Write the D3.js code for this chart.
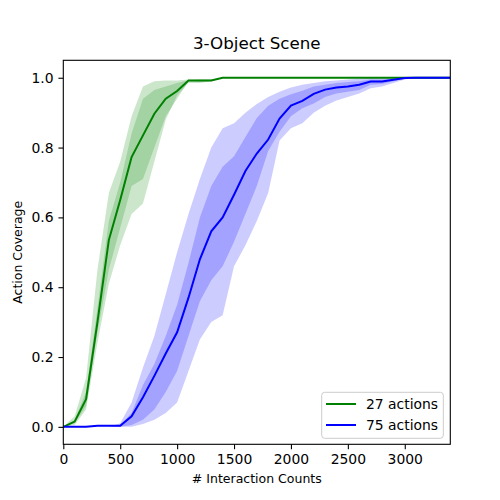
<!DOCTYPE html>
<html>
<head>
<meta charset="utf-8">
<script src="https://cdn.jsdelivr.net/npm/d3@7"></script>
<style>
  body { margin: 0; background: #fff; }
  text { font-family: "DejaVu Sans", sans-serif; }
</style>
</head>
<body>
<div id="canvas"></div>
<script>
// Interaction counts (x) shared by both series
const counts = [0, 100, 200, 300, 400, 500, 600, 700, 800, 900, 1000, 1100, 1200, 1300, 1400, 1500, 1600,
    1700, 1800, 1900, 2000, 2100, 2200, 2300, 2400, 2500, 2600, 2700, 2800, 2900, 3000, 3100, 3200, 3300, 3400];

// 27 actions (green)
const g_mean = [0, 0.015, 0.079, 0.30, 0.535, 0.65, 0.773, 0.835, 0.897, 0.94, 0.962, 0.992, 0.992, 0.992, 1, 1, 1,
    1, 1, 1, 1, 1, 1, 1, 1, 1, 1, 1, 1, 1, 1, 1, 1, 1, 1];
const g_min = [0, 0.005, 0.05, 0.24, 0.41, 0.52, 0.61, 0.64, 0.76, 0.88, 0.95, 0.985, 0.985, 0.99, 1, 1, 1,
    1, 1, 1, 1, 1, 1, 1, 1, 1, 1, 1, 1, 1, 1, 1, 1, 1, 1];
const g_max = [0, 0.03, 0.14, 0.45, 0.67, 0.76, 0.89, 0.975, 0.99, 0.992, 0.992, 0.995, 0.995, 0.995, 1, 1, 1,
    1, 1, 1, 1, 1, 1, 1, 1, 1, 1, 1, 1, 1, 1, 1, 1, 1, 1];
const g_lo = [0, 0.01, 0.06, 0.27, 0.45, 0.57, 0.69, 0.71, 0.80, 0.89, 0.94, 0.99, 0.988, 0.99, 1, 1, 1,
    1, 1, 1, 1, 1, 1, 1, 1, 1, 1, 1, 1, 1, 1, 1, 1, 1, 1];
const g_hi = [0, 0.02, 0.10, 0.34, 0.59, 0.70, 0.84, 0.94, 0.965, 0.975, 0.985, 0.993, 0.995, 0.995, 1, 1, 1,
    1, 1, 1, 1, 1, 1, 1, 1, 1, 1, 1, 1, 1, 1, 1, 1, 1, 1];

// 75 actions (blue)
const b_mean = [0, 0, 0, 0.003, 0.003, 0.003, 0.03, 0.085, 0.146, 0.21, 0.271, 0.37, 0.48, 0.56, 0.60, 0.665, 0.733,
    0.783, 0.823, 0.883, 0.92, 0.934, 0.954, 0.966, 0.972, 0.975, 0.98, 0.989, 0.989, 0.994, 0.999, 1, 1, 1, 1];
const b_min = [0, 0, 0, 0, 0, 0, 0, 0.008, 0.02, 0.04, 0.07, 0.16, 0.25, 0.30, 0.32, 0.46, 0.52,
    0.59, 0.67, 0.82, 0.855, 0.87, 0.90, 0.92, 0.935, 0.945, 0.955, 0.97, 0.975, 0.985, 0.995, 1, 1, 1, 1];
const b_max = [0, 0, 0, 0, 0, 0.01, 0.07, 0.17, 0.26, 0.38, 0.50, 0.61, 0.71, 0.80, 0.855, 0.87, 0.90,
    0.925, 0.945, 0.96, 0.972, 0.98, 0.985, 0.99, 0.992, 0.995, 0.997, 1, 1, 1, 1, 1, 1, 1, 1];
const b_lo = [0, 0, 0, 0, 0, 0, 0.005, 0.02, 0.05, 0.10, 0.16, 0.26, 0.36, 0.42, 0.46, 0.53, 0.61,
    0.69, 0.79, 0.845, 0.89, 0.913, 0.926, 0.945, 0.955, 0.96, 0.965, 0.98, 0.982, 0.99, 0.998, 1, 1, 1, 1];
const b_hi = [0, 0, 0, 0, 0, 0.005, 0.04, 0.12, 0.18, 0.26, 0.35, 0.47, 0.60, 0.69, 0.745, 0.775, 0.83,
    0.885, 0.92, 0.94, 0.953, 0.963, 0.975, 0.98, 0.985, 0.988, 0.99, 0.995, 0.995, 0.998, 1, 1, 1, 1, 1];

const xTicks = [0, 500, 1000, 1500, 2000, 2500, 3000];
const yTicks = [0, 0.2, 0.4, 0.6, 0.8, 1.0];
const seriesNames = ["27 actions", "75 actions"];

// Figure layout (matplotlib-like)
const W = 500, H = 500;
const m = { left: 63.3, right: 450.3, top: 60.3, bottom: 444.3 };

const svg = d3.select("#canvas")
    .append("svg")
    .attr("width", W)
    .attr("height", H);

const x = d3.scaleLinear().domain([0, 3400]).range([m.left, m.right]);
const y = d3.scaleLinear().domain([-0.05, 1.05]).range([m.bottom, m.top]);

svg.append("clipPath").attr("id", "clip")
    .append("rect")
    .attr("x", m.left).attr("y", m.top)
    .attr("width", m.right - m.left).attr("height", m.bottom - m.top);
const plot = svg.append("g")
    .attr("clip-path", "url(#clip)");

const band = (lo, hi) => d3.area()
    .x((d, i) => x(counts[i]))
    .y0((d, i) => y(lo[i]))
    .y1((d, i) => y(hi[i]))(counts);

const line = (vals) => d3.line()
    .x((d, i) => x(counts[i]))
    .y((d, i) => y(vals[i]))(counts);

// Shaded bands: outer range then inner range, both alpha 0.2
[[g_min, g_max, "green"], [g_lo, g_hi, "green"], [b_min, b_max, "blue"], [b_lo, b_hi, "blue"]]
    .forEach(([lo, hi, c]) => {
        plot.append("path")
            .attr("d", band(lo, hi))
            .attr("fill", c)
            .attr("fill-opacity", 0.2);
    });

// Mean lines
plot.append("path").attr("d", line(g_mean))
    .attr("fill", "none").attr("stroke", "green").attr("stroke-width", 2);
plot.append("path").attr("d", line(b_mean))
    .attr("fill", "none").attr("stroke", "blue").attr("stroke-width", 2);

// Axes
const xAxis = svg.append("g")
    .attr("transform", `translate(0,${m.bottom})`)
    .call(d3.axisBottom(x).tickValues(xTicks).tickFormat(d3.format("d"))
        .tickSize(4.9).tickPadding(4.9).tickSizeOuter(0));
const yAxis = svg.append("g")
    .attr("transform", `translate(${m.left},0)`)
    .call(d3.axisLeft(y).tickValues(yTicks).tickFormat(d3.format(".1f"))
        .tickSize(4.9).tickPadding(4.9).tickSizeOuter(0));
[xAxis, yAxis].forEach(a => {
    a.select(".domain").remove();
    a.selectAll(".tick line").attr("stroke", "#000").attr("stroke-width", 1.1);
    a.selectAll(".tick text")
        .attr("fill", "#000")
        .style("font-family", "DejaVu Sans")
        .style("font-size", "13.9px");
});

// Frame
svg.append("rect")
    .attr("x", m.left).attr("y", m.top)
    .attr("width", m.right - m.left).attr("height", m.bottom - m.top)
    .attr("fill", "none").attr("stroke", "#000").attr("stroke-width", 1.1);

// Title and labels
svg.append("text")
    .attr("x", (m.left + m.right) / 2).attr("y", 48.5)
    .attr("text-anchor", "middle")
    .style("font-size", "16.7px")
    .text("3-Object Scene");
svg.append("text")
    .attr("x", (m.left + m.right) / 2).attr("y", 483)
    .attr("text-anchor", "middle")
    .style("font-size", "12.5px")
    .text("# Interaction Counts");
svg.append("text")
    .attr("transform", `translate(21.8,${(m.top + m.bottom) / 2}) rotate(-90)`)
    .attr("text-anchor", "middle")
    .style("font-size", "12.5px")
    .text("Action Coverage");

// Legend
const legend = svg.append("g");
legend.append("rect")
    .attr("x", 321.7).attr("y", 392.3)
    .attr("width", 121.6).attr("height", 46)
    .attr("rx", 3)
    .attr("fill", "#fff").attr("fill-opacity", 0.8)
    .attr("stroke", "#cccccc").attr("stroke-width", 1);
seriesNames.forEach((name, i) => {
    const ly = 404 + i * 21;
    legend.append("line")
        .attr("x1", 326).attr("x2", 356)
        .attr("y1", ly).attr("y2", ly)
        .attr("stroke", i === 0 ? "green" : "blue").attr("stroke-width", 2);
    legend.append("text")
        .attr("x", 366).attr("y", ly + 5)
        .style("font-size", "13.9px")
        .text(name);
});
</script>
</body>
</html>
